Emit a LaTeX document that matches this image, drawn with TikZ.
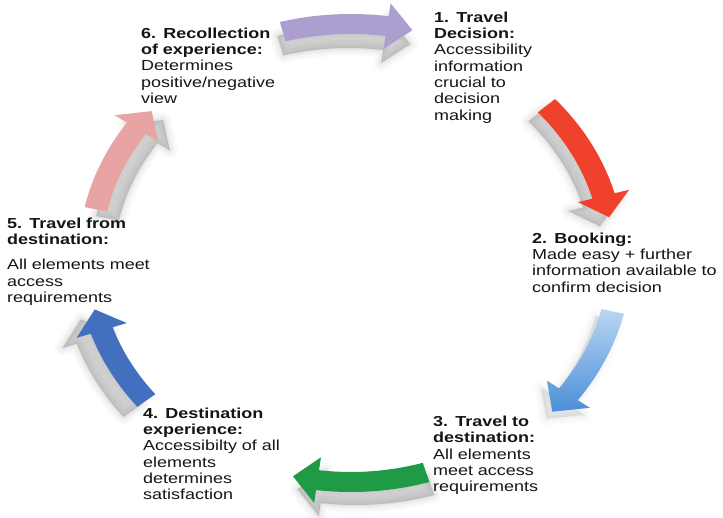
\documentclass[tikz,border=0pt]{standalone}
\usepackage{fontspec}
\newfontfamily\wf[FakeStretch=1.24]{Liberation Sans}
\definecolor{cpurple}{HTML}{AC9FD0}
\definecolor{cred}{HTML}{EF412C}
\definecolor{clbA}{HTML}{B9D6F2}
\definecolor{clbB}{HTML}{4A8FD8}
\definecolor{cgreen}{HTML}{1F9B45}
\definecolor{cblue}{HTML}{4270BE}
\definecolor{cpink}{HTML}{E8A3A3}
\definecolor{shadowgray}{HTML}{6A6A6A}
\definecolor{txt}{HTML}{151515}
\newcommand{\arw}{10}
\newcommand{\arh}{23}
\newcommand{\arhl}{5.5}
% #1 start angle, #2 tip angle, #3 radius, #4 shadow shift, #5 fill style, #6 shadow opacity factor
\newcommand{\cycarrow}[6]{%
  \pgfmathsetmacro\hb{#2+\arhl}%
  \pgfmathsetmacro\Ro{#3+\arw}%
  \pgfmathsetmacro\Ri{#3-\arw}%
  \pgfmathsetmacro\Rho{#3+\arh}%
  \pgfmathsetmacro\Rhi{#3-\arh}%
  \def\arrp{(#1:\Ro) arc[start angle=#1, end angle=\hb, radius=\Ro] -- (\hb:\Rho) -- (#2:#3) -- (\hb:\Rhi) -- (\hb:\Ri) arc[start angle=\hb, end angle=#1, radius=\Ri] -- cycle}%
  \begin{scope}[shift={#4}]
    \foreach \lw/\op in {16/0.03,11/0.045,6/0.06,2/0.08}{%
      \pgfmathsetmacro\opp{\op*#6}%
      \path[draw=shadowgray, line width=\lw pt, line join=round, draw opacity=\opp] \arrp;}
    \pgfmathsetmacro\opf{0.32*#6}%
    \path[fill=shadowgray, fill opacity=\opf] \arrp;
  \end{scope}
  \path[#5] \arrp;
}
\begin{document}
\begin{tikzpicture}[x=1pt,y=1pt,
  lbl/.style={anchor=base west, inner sep=0pt, text width=260pt, align=left,
    font=\wf\fontsize{14.5}{16.3}\selectfont, text=txt}]
\useasboundingbox (0,0) rectangle (723,517);
\begin{scope}[shift={(351,260)}, xscale=1.155]
  \cycarrow{104.7}{76.8}{233}{(-2,-14)}{fill=cpurple}{1}
  \cycarrow{41.8}{10.1}{227}{(-8,-9)}{fill=cred}{1}
  \cycarrow{-13.5}{-41.6}{233}{(-5,-7)}{top color=clbA, bottom color=clbB}{0.5}
  \cycarrow{-73.2}{-102.9}{225}{(4,-13)}{fill=cgreen}{1}
  \cycarrow{219}{193.3}{228}{(-12,-10)}{fill=cblue}{1}
  \cycarrow{167.8}{139.8}{226}{(10,-9)}{fill=cpink}{1}
\end{scope}
\node[lbl] (t6) at (141,478.7) {{\bfseries 6. Recollection\\of experience:}\\Determines\\positive/negative\\view};
\node[lbl] (t1) at (434,494.7) {{\bfseries 1. Travel\\Decision:}\\Accessibility\\information\\crucial to\\decision\\making};
\node[lbl] (t2) at (532,273.7) {{\bfseries 2. Booking:}\\Made easy + further\\information available to\\confirm decision};
\node[lbl] (t3) at (433,90.3) {{\bfseries 3. Travel to\\destination:}\\All elements\\meet access\\requirements};
\node[lbl] (t4) at (143,98.7) {{\bfseries 4. Destination\\experience:}\\Accessibilty of all\\elements\\determines\\satisfaction};
\node[lbl] (t5) at (7,288.7) {{\bfseries 5. Travel from\\destination:}\\[9pt]All elements meet\\access\\requirements};
\end{tikzpicture}
\end{document}
